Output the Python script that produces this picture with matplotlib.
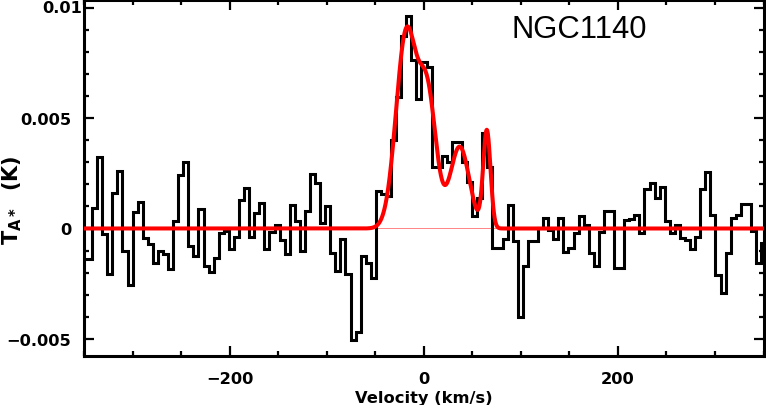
import numpy as np
import matplotlib
matplotlib.use("Agg")
import matplotlib.pyplot as plt
from matplotlib.ticker import MultipleLocator, FixedLocator
from matplotlib.transforms import offset_copy

plt.rcParams['font.family'] = ['DejaVu Sans']
plt.rcParams['mathtext.default'] = 'bf'

# spectrum: regular channels, first edge and width in km/s
v_first_edge = -352.14
chan_width = 5.221
t_antenna = [
    -0.0014, -0.0014, 0.00094, 0.00325, -0.00027, -0.00207, 0.0016, 0.0026,
    -0.001, -0.00257, 0.00073, 0.0012, -0.00042, -0.00072, -0.00155, -0.001,
    -0.00117, -0.00185, 0.00036, 0.00243, 0.003, -0.0008, -0.00125, 0.00086,
    -0.0017, -0.00197, -0.00132, -0.0002, -0.00012, -0.00092, -0.00038, 0.00128,
    0.00183, -0.00038, 0.0007, 0.00116, -0.00095, -0.00017, 0.00014, -0.0005,
    -0.00117, 0.00108, 0.00033, -0.001, 0.00078, 0.00248, 0.00208, 0.00026,
    0.00104, -0.0011, -0.00192, -0.00047, -0.00207, -0.00503, -0.0047, -0.00125,
    -0.00154, -0.00222, 0.00168, 0.00157, 0.00146, 0.004, 0.00596, 0.00873,
    0.0096, 0.00764, 0.00584, 0.00753, 0.0073, 0.0028, 0.0028, 0.0033,
    0.0030, 0.0039, 0.0039, 0.0030, 0.0021, 0.00055, 0.0014, 0.0043,
    0.0028, -0.00087, -0.00087, -0.00046, 0.00108, -0.00057, -0.004, -0.0017,
    -0.00057, -0.00057, 0.0, 0.00048, -0.00005, -0.00047, 0.00048, -0.00107,
    -0.00087, -0.0002, 0.00056, 0.00018, -0.00113, -0.0017, -0.00017, 0.00078,
    0.00078, -0.00177, -0.00177, 0.00038, 0.00044, 0.00059, -0.0002, 0.00179,
    0.00208, 0.00138, 0.0019, 0.00033, -0.0002, 0.00018, -0.00042, -0.0005,
    -0.00092, -0.00038, 0.00179, 0.00254, 0.00059, -0.00212, -0.0029, -0.0011,
    0.00048, 0.00063, 0.00113, 0.00113, -0.00012, -0.00155, -0.00065,
]

# gaussian components of the fit
fit_amp = [0.0088, 0.0058, 0.0037, 0.0044]
fit_center = [-18.0, 4.0, 37.0, 65.0]
fit_sigma = [10.5, 9.0, 9.9, 3.8]

x_ticks = [-200, 0, 200]
x_ticklabels = ['\u2212200', '0', '200']
y_ticks = [-0.005, 0, 0.005, 0.01]
y_ticklabels = ['\u22120.005', '0', '0.005', '0.01']

edges = v_first_edge + chan_width * np.arange(len(t_antenna) + 1)
v_model = np.linspace(-350, 350, 2000)
model = np.zeros_like(v_model)
for a, c, s in zip(fit_amp, fit_center, fit_sigma):
    model += a * np.exp(-0.5 * ((v_model - c) / s) ** 2)

fig = plt.figure(figsize=(7.66, 4.06), dpi=100)
ax = fig.add_axes([84 / 766, 1 - 357 / 406, 679.5 / 766, 356 / 406])

ax.axhline(0, color='#ff7070', lw=0.6, zorder=1)
ax.stairs(t_antenna, edges, baseline=None, color='black', lw=2.2, zorder=2)
ax.plot(v_model, model, color='red', lw=2.9, zorder=3)

ax.set_xlim(-350, 350)
ax.set_ylim(-0.00577, 0.01034)

ax.xaxis.set_major_locator(FixedLocator(x_ticks))
ax.xaxis.set_minor_locator(MultipleLocator(50))
ax.yaxis.set_major_locator(FixedLocator(y_ticks))
ax.yaxis.set_minor_locator(MultipleLocator(0.001))
ax.set_xticklabels(x_ticklabels)
# the top label sits a little to the right, drawn separately below
ax.set_yticklabels(y_ticklabels[:-1] + [''])

ax.tick_params(which='both', direction='in', top=True, right=True, width=1.6)
ax.tick_params(which='major', length=7, labelsize=11.7)
ax.tick_params(axis='x', which='major', pad=11)
ax.tick_params(axis='y', which='major', pad=9)
ax.tick_params(which='minor', length=3.5)
for lab in ax.get_xticklabels() + ax.get_yticklabels():
    lab.set_fontweight('bold')
for sp in ax.spines.values():
    sp.set_linewidth(2.2)

top_tr = offset_copy(ax.get_yaxis_transform(), fig=fig, x=-2, y=0, units='dots')
ax.text(0, y_ticks[-1], y_ticklabels[-1], transform=top_tr, ha='right',
        va='center', fontsize=11.7, fontweight='bold')

ax.set_xlabel('Velocity (km/s)', fontsize=11.7, fontweight='bold', labelpad=3)
fig.text(12 / 766, 1 - 200 / 406, r'T$_{A*}$  (K)', rotation=90, ha='center',
         va='center', fontsize=15, fontweight='bold')

ax.text(0.629, 0.895, 'NGC1140', transform=ax.transAxes, fontsize=22.3,
        family='Liberation Sans', va='baseline', ha='left')

fig.savefig('out.png', dpi=100)
